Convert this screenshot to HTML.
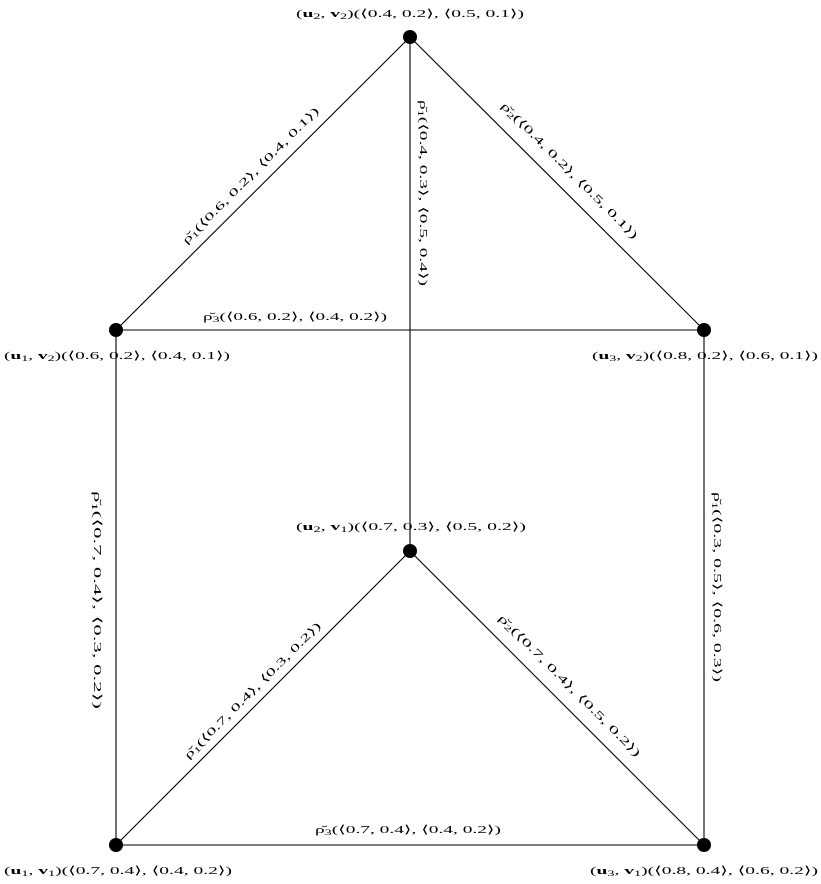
<!DOCTYPE html>
<html><head><meta charset="utf-8"><style>
html,body{margin:0;padding:0;background:#fff;}
svg{display:block;}
text{font-family:"Liberation Serif","DejaVu Serif",serif;font-size:11px;fill:#000;}
</style></head><body>
<svg width="821" height="884" viewBox="0 0 821 884" xmlns="http://www.w3.org/2000/svg">
<g stroke="#000" stroke-width="1.1">
<line x1="116" y1="330" x2="410" y2="37"/>
<line x1="410" y1="37" x2="704" y2="330"/>
<line x1="410" y1="37" x2="410" y2="551"/>
<line x1="116" y1="330" x2="704" y2="330"/>
<line x1="116" y1="330" x2="116" y2="845"/>
<line x1="704" y1="330" x2="704" y2="845"/>
<line x1="116" y1="845" x2="410" y2="551"/>
<line x1="410" y1="551" x2="704" y2="845"/>
<line x1="116" y1="845" x2="704" y2="845"/>
</g>
<g fill="#000">
<circle cx="410" cy="37" r="7"/><circle cx="116" cy="330" r="7"/><circle cx="704" cy="330" r="7"/>
<circle cx="410" cy="551" r="7"/><circle cx="116" cy="845" r="7"/><circle cx="704" cy="845" r="7"/>
</g>
<!-- node labels -->
<text x="410" y="17" text-anchor="middle" textLength="228" lengthAdjust="spacingAndGlyphs">(<tspan font-weight="bold">u</tspan><tspan font-size="8" dy="2">2</tspan><tspan dy="-2">, </tspan><tspan font-weight="bold">v</tspan><tspan font-size="8" dy="2">2</tspan><tspan dy="-2">)(⟨0.4, 0.2⟩, ⟨0.5, 0.1⟩)</tspan></text>
<text x="117" y="359" text-anchor="middle" textLength="226" lengthAdjust="spacingAndGlyphs">(<tspan font-weight="bold">u</tspan><tspan font-size="8" dy="2">1</tspan><tspan dy="-2">, </tspan><tspan font-weight="bold">v</tspan><tspan font-size="8" dy="2">2</tspan><tspan dy="-2">)(⟨0.6, 0.2⟩, ⟨0.4, 0.1⟩)</tspan></text>
<text x="705" y="359" text-anchor="middle" textLength="226" lengthAdjust="spacingAndGlyphs">(<tspan font-weight="bold">u</tspan><tspan font-size="8" dy="2">3</tspan><tspan dy="-2">, </tspan><tspan font-weight="bold">v</tspan><tspan font-size="8" dy="2">2</tspan><tspan dy="-2">)(⟨0.8, 0.2⟩, ⟨0.6, 0.1⟩)</tspan></text>
<text x="411" y="530" text-anchor="middle" textLength="230" lengthAdjust="spacingAndGlyphs">(<tspan font-weight="bold">u</tspan><tspan font-size="8" dy="2">2</tspan><tspan dy="-2">, </tspan><tspan font-weight="bold">v</tspan><tspan font-size="8" dy="2">1</tspan><tspan dy="-2">)(⟨0.7, 0.3⟩, ⟨0.5, 0.2⟩)</tspan></text>
<text x="118" y="874" text-anchor="middle" textLength="228" lengthAdjust="spacingAndGlyphs">(<tspan font-weight="bold">u</tspan><tspan font-size="8" dy="2">1</tspan><tspan dy="-2">, </tspan><tspan font-weight="bold">v</tspan><tspan font-size="8" dy="2">1</tspan><tspan dy="-2">)(⟨0.7, 0.4⟩, ⟨0.4, 0.2⟩)</tspan></text>
<text x="704" y="874" text-anchor="middle" textLength="228" lengthAdjust="spacingAndGlyphs">(<tspan font-weight="bold">u</tspan><tspan font-size="8" dy="2">3</tspan><tspan dy="-2">, </tspan><tspan font-weight="bold">v</tspan><tspan font-size="8" dy="2">1</tspan><tspan dy="-2">)(⟨0.8, 0.4⟩, ⟨0.6, 0.2⟩)</tspan></text>
<!-- edge labels -->
<text transform="translate(253,178) rotate(-45)" text-anchor="middle" textLength="188" lengthAdjust="spacingAndGlyphs">ρ̆<tspan font-size="8" dy="2">1</tspan><tspan dy="-2">(⟨0.6, 0.2⟩, ⟨0.4, 0.1⟩)</tspan></text>
<text transform="translate(567,173) rotate(45)" text-anchor="middle" textLength="188" lengthAdjust="spacingAndGlyphs">ρ̆<tspan font-size="8" dy="2">2</tspan><tspan dy="-2">(⟨0.4, 0.2⟩, ⟨0.5, 0.1⟩)</tspan></text>
<text transform="translate(420,193) rotate(90)" text-anchor="middle" textLength="186" lengthAdjust="spacingAndGlyphs">ρ̆<tspan font-size="8" dy="2">1</tspan><tspan dy="-2">(⟨0.4, 0.3⟩, ⟨0.5, 0.4⟩)</tspan></text>
<text x="295" y="320" text-anchor="middle" textLength="184" lengthAdjust="spacingAndGlyphs">ρ̆<tspan font-size="8" dy="2">3</tspan><tspan dy="-2">(⟨0.6, 0.2⟩, ⟨0.4, 0.2⟩)</tspan></text>
<text transform="translate(94,600) rotate(90)" text-anchor="middle" textLength="218" lengthAdjust="spacingAndGlyphs">ρ̆<tspan font-size="8" dy="2">1</tspan><tspan dy="-2">(⟨0.7, 0.4⟩, ⟨0.3, 0.2⟩)</tspan></text>
<text transform="translate(714,587) rotate(90)" text-anchor="middle" textLength="190" lengthAdjust="spacingAndGlyphs">ρ̆<tspan font-size="8" dy="2">1</tspan><tspan dy="-2">(⟨0.3, 0.5⟩, ⟨0.6, 0.3⟩)</tspan></text>
<text transform="translate(255,693) rotate(-45)" text-anchor="middle" textLength="188" lengthAdjust="spacingAndGlyphs">ρ̆<tspan font-size="8" dy="2">1</tspan><tspan dy="-2">(⟨0.7, 0.4⟩, ⟨0.3, 0.2⟩)</tspan></text>
<text transform="translate(567,688) rotate(45)" text-anchor="middle" textLength="196" lengthAdjust="spacingAndGlyphs">ρ̆<tspan font-size="8" dy="2">2</tspan><tspan dy="-2">(⟨0.7, 0.4⟩, ⟨0.5, 0.2⟩)</tspan></text>
<text x="408" y="833" text-anchor="middle" textLength="186" lengthAdjust="spacingAndGlyphs">ρ̆<tspan font-size="8" dy="2">3</tspan><tspan dy="-2">(⟨0.7, 0.4⟩, ⟨0.4, 0.2⟩)</tspan></text>
</svg>
</body></html>
